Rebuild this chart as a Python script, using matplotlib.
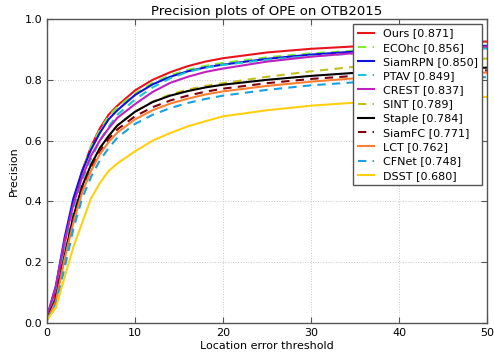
import numpy as np
import matplotlib
matplotlib.use('Agg')
import matplotlib.pyplot as plt


# --------- data ---------
thresholds = [0, 1, 2, 3, 4, 5, 6, 7, 8, 10, 12, 14, 16, 18, 20, 25, 30, 35, 40, 45, 50]

trackers = ['Ours', 'ECOhc', 'SiamRPN', 'PTAV', 'CREST', 'SINT',
            'Staple', 'SiamFC', 'LCT', 'CFNet', 'DSST']
scores = [0.871, 0.856, 0.850, 0.849, 0.837, 0.789, 0.784, 0.771, 0.762, 0.748, 0.680]

ours = [0.01, 0.10, 0.26, 0.40, 0.50, 0.58, 0.64, 0.685, 0.715, 0.765, 0.80,
        0.825, 0.845, 0.86, 0.871, 0.89, 0.902, 0.91, 0.917, 0.922, 0.926]
ecohc = [0.01, 0.10, 0.26, 0.40, 0.50, 0.58, 0.635, 0.68, 0.71, 0.755, 0.79,
         0.815, 0.833, 0.846, 0.856, 0.874, 0.887, 0.896, 0.903, 0.908, 0.912]
siamrpn = [0.02, 0.12, 0.28, 0.41, 0.50, 0.57, 0.625, 0.67, 0.70, 0.75, 0.785,
           0.81, 0.828, 0.841, 0.850, 0.869, 0.883, 0.893, 0.901, 0.907, 0.912]
ptav = [0.01, 0.09, 0.24, 0.37, 0.47, 0.54, 0.60, 0.645, 0.685, 0.735, 0.775,
        0.805, 0.826, 0.840, 0.849, 0.866, 0.878, 0.887, 0.894, 0.899, 0.903]
crest = [0.02, 0.12, 0.27, 0.39, 0.48, 0.55, 0.60, 0.64, 0.675, 0.72, 0.76,
         0.79, 0.81, 0.826, 0.837, 0.86, 0.876, 0.888, 0.897, 0.904, 0.909]
sint = [0.01, 0.08, 0.22, 0.35, 0.45, 0.52, 0.575, 0.615, 0.65, 0.695, 0.728,
        0.752, 0.768, 0.78, 0.789, 0.81, 0.828, 0.843, 0.855, 0.864, 0.870]
staple = [0.01, 0.08, 0.22, 0.35, 0.45, 0.52, 0.575, 0.615, 0.65, 0.695, 0.727,
          0.748, 0.763, 0.775, 0.784, 0.80, 0.813, 0.823, 0.831, 0.836, 0.840]
siamfc = [0.01, 0.08, 0.21, 0.34, 0.44, 0.51, 0.565, 0.605, 0.637, 0.68, 0.71,
          0.732, 0.748, 0.761, 0.771, 0.789, 0.803, 0.813, 0.821, 0.827, 0.831]
lct = [0.01, 0.07, 0.21, 0.33, 0.43, 0.50, 0.555, 0.595, 0.627, 0.67, 0.70,
       0.722, 0.738, 0.752, 0.762, 0.78, 0.794, 0.805, 0.813, 0.819, 0.824]
cfnet = [0.01, 0.06, 0.18, 0.31, 0.41, 0.48, 0.535, 0.575, 0.61, 0.655, 0.685,
         0.707, 0.724, 0.737, 0.748, 0.767, 0.782, 0.792, 0.799, 0.805, 0.809]
dsst = [0.01, 0.05, 0.15, 0.25, 0.33, 0.41, 0.46, 0.50, 0.525, 0.565, 0.60,
        0.625, 0.647, 0.664, 0.680, 0.70, 0.715, 0.725, 0.733, 0.739, 0.744]

curves = [ours, ecohc, siamrpn, ptav, crest, sint, staple, siamfc, lct, cfnet, dsst]
colors = ['#e8141c', '#80ee30', '#1010e0', '#18c8d0', '#c020c0', '#c0c020',
          '#000000', '#800010', '#ff7f30', '#18a0e0', '#ffd010']
styles = ['-', '--', '-', '--', '-', '--', '-', '--', '-', '--', '-']


# --------- plot ---------
fig = plt.figure(figsize=(4.94, 3.52), dpi=100)
ax = fig.add_axes([0.095, 0.082, 0.891, 0.864])

for name, score, y, c, ls in zip(trackers, scores, curves, colors, styles):
    ax.plot(thresholds, y, color=c, linestyle=ls, linewidth=1.5,
            dashes=(4, 3) if ls == '--' else (None, None),
            label='%s [%.3f]' % (name, score))

ax.set_xlim(0, 50)
ax.set_ylim(0, 1)
ax.set_xticks([0, 10, 20, 30, 40, 50])
ax.set_yticks([0, 0.2, 0.4, 0.6, 0.8, 1.0])
ax.set_yticklabels(['0.0', '0.2', '0.4', '0.6', '0.8', '1.0'])
ax.grid(True, linestyle=':', color='#c8c8c8', linewidth=0.7)
ax.tick_params(direction='in', top=True, right=True, labelsize=8,
               length=4, color='#555555')
for sp in ax.spines.values():
    sp.set_color('#555555')
    sp.set_linewidth(1.0)

ax.set_title('Precision plots of OPE on OTB2015', fontsize=9.5, pad=3)
ax.set_xlabel('Location error threshold', fontsize=8, labelpad=2)
ax.set_ylabel('Precision', fontsize=8, labelpad=4)

leg = ax.legend(loc='upper right', fontsize=8, fancybox=False,
                borderaxespad=0.45, handlelength=1.5, handletextpad=0.75,
                labelspacing=0.38, borderpad=0.4, framealpha=1)
leg.get_frame().set_edgecolor('#555555')
leg.get_frame().set_linewidth(1.0)

fig.savefig('out.png', dpi=100)
